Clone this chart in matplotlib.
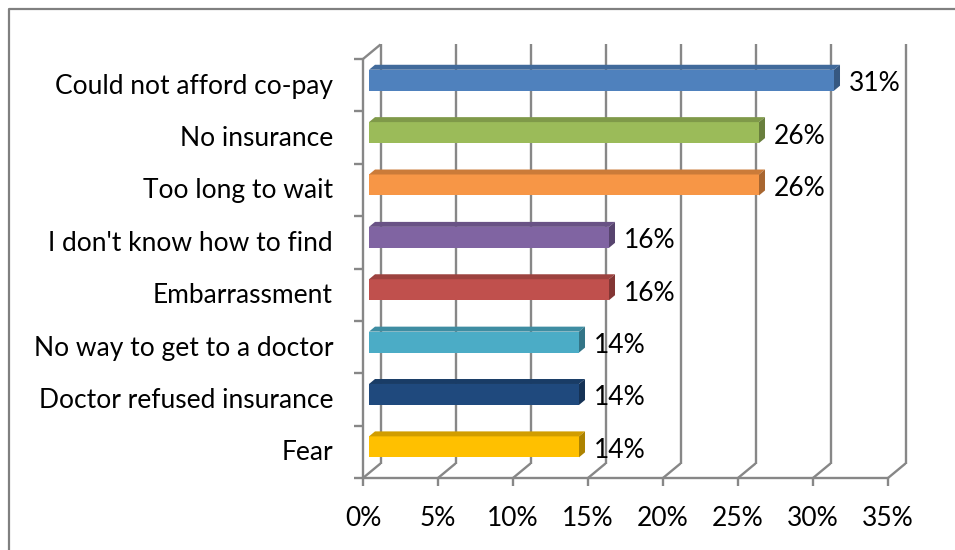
import matplotlib
matplotlib.use("Agg")
import matplotlib.pyplot as plt
from matplotlib.patches import Polygon
from matplotlib.lines import Line2D
from matplotlib.transforms import IdentityTransform
import numpy as np

categories = ["Fear", "Doctor refused insurance", "No way to get to a doctor",
              "Embarrassment", "I don't know how to find", "Too long to wait",
              "No insurance", "Could not afford co-pay"]
values = [14, 14, 14, 16, 16, 26, 26, 31]
value_labels = ["14%", "14%", "14%", "16%", "16%", "26%", "26%", "31%"]
bar_colors = ["#FFC000", "#1F497D", "#4BACC6", "#C0504D", "#8064A2",
              "#F79646", "#9BBB59", "#4F81BD"]
xticks = [0, 5, 10, 15, 20, 25, 30, 35]
xtick_labels = ["0%", "5%", "10%", "15%", "20%", "25%", "30%", "35%"]

W, H, DPI = 955, 550, 100
FONT = "Lato"
FS = 19
GRID = "#878787"
DEPTH = np.array([17.5, 14.5])   # back-wall offset in pixels
D0, D1 = 0.343, 0.686            # bar front / back depth fractions
BAR_H = 0.40

fig = plt.figure(figsize=(W / DPI, H / DPI), dpi=DPI)
ax = fig.add_axes([363 / W, 72 / H, 525 / W, 419 / H])
ax.set_xlim(0, 35)
ax.set_ylim(-0.5, 7.5)
ax.axis("off")


def P(x, y, d=0.0):
    p = ax.transData.transform((x, y))
    return p + d * DEPTH


def poly(pts, color, z):
    ax.add_patch(Polygon(np.array(pts), closed=True, facecolor=color, edgecolor="none",
                         transform=IdentityTransform(), clip_on=False, zorder=z))


def line(pts, z=1, lw=1.7):
    pts = np.array(pts)
    ax.add_line(Line2D(pts[:, 0], pts[:, 1], color=GRID, lw=lw,
                       transform=IdentityTransform(), clip_on=False, zorder=z,
                       solid_capstyle="butt"))


def shade(c, f):
    rgb = np.array(matplotlib.colors.to_rgb(c))
    return tuple(rgb * f)


ymin, ymax = -0.5, 7.5
# back wall gridlines and floor diagonals
for k in xticks:
    line([P(k, ymin, 1), P(k, ymax, 1)])
    line([P(k, ymin, 0), P(k, ymin, 1)])
    a = P(k, ymin, 0)
    line([a, a + np.array([0, -8])])
# front floor line
line([P(0, ymin, 0), P(35, ymin, 0)])
# left wall front edge and top diagonal
line([P(0, ymin, 0), P(0, ymax, 0)])
line([P(0, ymax, 0), P(0, ymax, 1)])
# category tick marks on left wall
for b in np.arange(ymin, ymax + 0.01, 1.0):
    a = P(0, b, 0)
    line([a + np.array([-9, 0]), a])

# bars
for i, (v, c) in enumerate(zip(values, bar_colors)):
    y0, y1 = i - BAR_H / 2, i + BAR_H / 2
    poly([P(0, y0, D0), P(v, y0, D0), P(v, y1, D0), P(0, y1, D0)], c, 3)
    poly([P(0, y1, D0), P(v, y1, D0), P(v, y1, D1), P(0, y1, D1)], shade(c, 0.82), 3)
    poly([P(v, y0, D0), P(v, y1, D0), P(v, y1, D1), P(v, y0, D1)], shade(c, 0.68), 3)
    ax.annotate(value_labels[i], xy=(v, i), xytext=(D0 * DEPTH[0] + 15, D0 * DEPTH[1] - 3.5),
                textcoords="offset pixels", ha="left", va="center",
                fontsize=FS, family=FONT, color="black", annotation_clip=False)

# category labels
for i, cat in enumerate(categories):
    ax.annotate(cat, xy=(0, i), xytext=(-30, -1), textcoords="offset pixels",
                ha="right", va="center", fontsize=FS, family=FONT, color="black",
                annotation_clip=False)

# x tick labels
for k, lab in zip(xticks, xtick_labels):
    ax.annotate(lab, xy=(k, ymin), xytext=(0, -40), textcoords="offset pixels",
                ha="center", va="center", fontsize=FS, family=FONT, color="black",
                annotation_clip=False)

# outer frame (partial, as in the reference)
fig.add_artist(Line2D([8.5 / W, 8.5 / W, 1.0], [0.0, 1 - 8.5 / H, 1 - 8.5 / H],
                      transform=fig.transFigure, color="#808080", lw=1.6))

fig.savefig("out.png", dpi=DPI, facecolor="white")
